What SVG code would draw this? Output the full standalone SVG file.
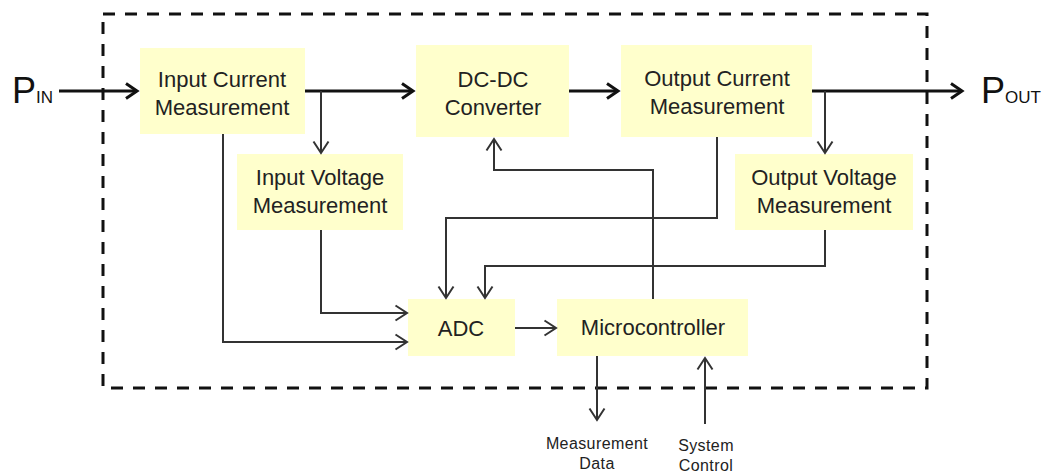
<svg xmlns="http://www.w3.org/2000/svg" width="1043" height="474" viewBox="0 0 1043 474">
<style>
.box{fill:#FFFFCC}
.t{font-family:"Liberation Sans",Arial,sans-serif;font-size:22px;fill:#222;text-anchor:middle}
.p{font-family:"Liberation Sans",Arial,sans-serif;fill:#111}
.s{font-family:"Liberation Sans",Arial,sans-serif;font-size:16px;fill:#222;text-anchor:middle;letter-spacing:0.4px}
.thick{fill:none;stroke:#111;stroke-width:3;marker-end:url(#A)}
.thin{fill:none;stroke:#333;stroke-width:2;marker-end:url(#a)}
</style>
<defs>
<marker id="A" markerUnits="userSpaceOnUse" markerWidth="16" markerHeight="20" refX="12" refY="9" orient="auto" overflow="visible">
<path d="M1,1.5 L12,9 L1,16.5" fill="none" stroke="#111" stroke-width="3"/>
</marker>
<marker id="a" markerUnits="userSpaceOnUse" markerWidth="16" markerHeight="18" refX="12" refY="8" orient="auto" overflow="visible">
<path d="M0.5,0.5 L12,8 L0.5,15.5" fill="none" stroke="#333" stroke-width="2"/>
</marker>
</defs>
<rect x="103" y="14" width="824" height="374" fill="none" stroke="#111" stroke-width="3" stroke-dasharray="12 10"/>
<g id="pin"><text class="p" x="12" y="103" font-size="36">P<tspan font-size="17">IN</tspan></text></g>
<g id="pout"><text class="p" x="981" y="103" font-size="36">P<tspan font-size="17">OUT</tspan></text></g>
<g id="input-current"><rect class="box" x="140" y="48" width="165" height="86"/><text class="t" x="222" y="87">Input Current</text><text class="t" x="222" y="115">Measurement</text></g>
<g id="input-voltage"><rect class="box" x="237" y="154" width="166" height="76"/><text class="t" x="320" y="185">Input Voltage</text><text class="t" x="320" y="213">Measurement</text></g>
<g id="dcdc"><rect class="box" x="416" y="45" width="153" height="92"/><text class="t" x="493" y="87">DC-DC</text><text class="t" x="493" y="115">Converter</text></g>
<g id="output-current"><rect class="box" x="621" y="45" width="191" height="92"/><text class="t" x="717" y="86">Output Current</text><text class="t" x="717" y="114">Measurement</text></g>
<g id="output-voltage"><rect class="box" x="735" y="154" width="178" height="76"/><text class="t" x="824" y="185">Output Voltage</text><text class="t" x="824" y="213">Measurement</text></g>
<g id="adc"><rect class="box" x="408" y="299" width="107" height="57"/><text class="t" x="461" y="336">ADC</text></g>
<g id="micro"><rect class="box" x="557" y="299" width="191" height="57"/><text class="t" x="653" y="335">Microcontroller</text></g>
<g id="labels"><text class="s" x="597" y="449">Measurement</text><text class="s" x="597" y="469">Data</text><text class="s" x="706" y="451">System</text><text class="s" x="706" y="471">Control</text></g>
<g id="connectors">
<path class="thick" d="M59,91 H137"/>
<path class="thick" d="M305,91 H413"/>
<path class="thick" d="M569,91 H618"/>
<path class="thick" d="M812,91 H962"/>
<path class="thin" d="M321,91 V153"/>
<path class="thin" d="M825,91 V153"/>
<path class="thin" d="M223,134 V342 H407"/>
<path class="thin" d="M321,230 V313 H407"/>
<path class="thin" d="M717,137 V218 H446 V298"/>
<path class="thin" d="M825,230 V266 H485 V298"/>
<path class="thin" d="M515,328 H556"/>
<path class="thin" d="M653,299 V170 H494 V139"/>
<path class="thin" d="M597,356 V420"/>
<path class="thin" d="M705,424 V358"/>
</g>
</svg>
